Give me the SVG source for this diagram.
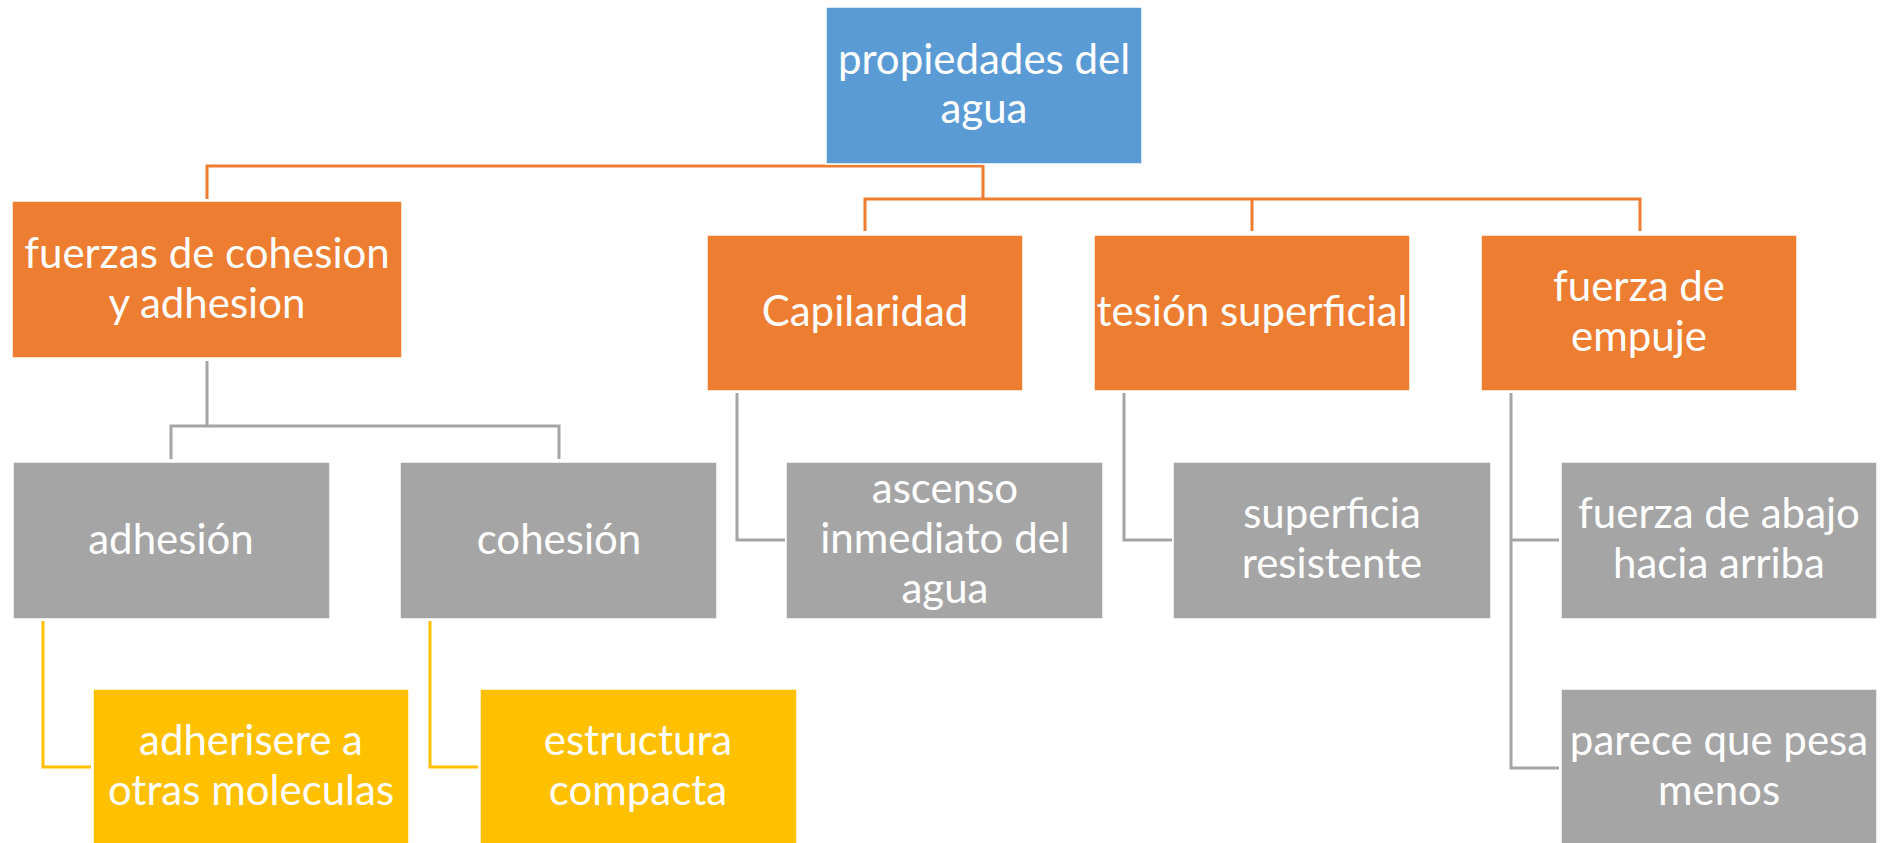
<svg xmlns="http://www.w3.org/2000/svg" width="1883" height="843" viewBox="0 0 1883 843">
<style>
.t{font-family:Lato,"Liberation Sans",sans-serif;font-size:42px;fill:#fff;text-anchor:middle}
.blue{fill:#5B9BD5}
.org{fill:#ED7D31}
.gry{fill:#A5A5A5}
.yel{fill:#FFC000}
.box{stroke:#fff;stroke-width:1.5}
.co{fill:none;stroke:#ED7D31;stroke-width:3}
.cg{fill:none;stroke:#A5A5A5;stroke-width:3}
.cy{fill:none;stroke:#FFC000;stroke-width:3}
</style>
<rect width="1883" height="843" fill="#fff"/>
<g id="connectors">
<path class="co" d="M207,199 V166 H983 V199"/>
<path class="co" d="M865,231 V199 H1640 V231 M1252,199 V231"/>
<path class="cg" d="M207,361 V426 M171,459 V426 H559 V459"/>
<path class="cg" d="M737,393 V540 H785"/>
<path class="cg" d="M1124,393 V540 H1172"/>
<path class="cg" d="M1511,393 V768 H1559 M1511,540 H1559"/>
<path class="cy" d="M43,621 V767 H91"/>
<path class="cy" d="M430,621 V767 H478"/>
</g>
<g id="n-root"><rect class="box blue" x="826" y="7" width="316" height="157"/><text class="t" x="984" y="74">propiedades del</text><text class="t" x="984" y="123">agua</text></g>
<g id="n-fuerzas"><rect class="box org" x="12" y="201" width="390" height="157"/><text class="t" x="207" y="268">fuerzas de cohesion</text><text class="t" x="207" y="318">y adhesion</text></g>
<g id="n-capilaridad"><rect class="box org" x="707" y="235" width="316" height="156"/><text class="t" x="865" y="326">Capilaridad</text></g>
<g id="n-tesion"><rect class="box org" x="1094" y="235" width="316" height="156"/><text class="t" x="1252" y="326">tesión superficial</text></g>
<g id="n-empuje"><rect class="box org" x="1481" y="235" width="316" height="156"/><text class="t" x="1639" y="301">fuerza de</text><text class="t" x="1639" y="351">empuje</text></g>
<g id="n-adhesion"><rect class="box gry" x="13" y="462" width="317" height="157"/><text class="t" x="171" y="554">adhesión</text></g>
<g id="n-cohesion"><rect class="box gry" x="400" y="462" width="317" height="157"/><text class="t" x="559" y="554">cohesión</text></g>
<g id="n-ascenso"><rect class="box gry" x="786" y="462" width="317" height="157"/><text class="t" x="945" y="503">ascenso</text><text class="t" x="945" y="553">inmediato del</text><text class="t" x="945" y="603">agua</text></g>
<g id="n-superficia"><rect class="box gry" x="1173" y="462" width="318" height="157"/><text class="t" x="1332" y="528">superficia</text><text class="t" x="1332" y="578">resistente</text></g>
<g id="n-abajo"><rect class="box gry" x="1561" y="462" width="316" height="157"/><text class="t" x="1719" y="528">fuerza de abajo</text><text class="t" x="1719" y="578">hacia arriba</text></g>
<g id="n-parece"><rect class="box gry" x="1561" y="689" width="316" height="160"/><text class="t" x="1719" y="755">parece que pesa</text><text class="t" x="1719" y="805">menos</text></g>
<g id="n-adherisere"><rect class="box yel" x="93" y="689" width="316" height="160"/><text class="t" x="251" y="755">adherisere a</text><text class="t" x="251" y="805">otras moleculas</text></g>
<g id="n-estructura"><rect class="box yel" x="480" y="689" width="317" height="160"/><text class="t" x="638" y="755">estructura</text><text class="t" x="638" y="805">compacta</text></g>
</svg>
